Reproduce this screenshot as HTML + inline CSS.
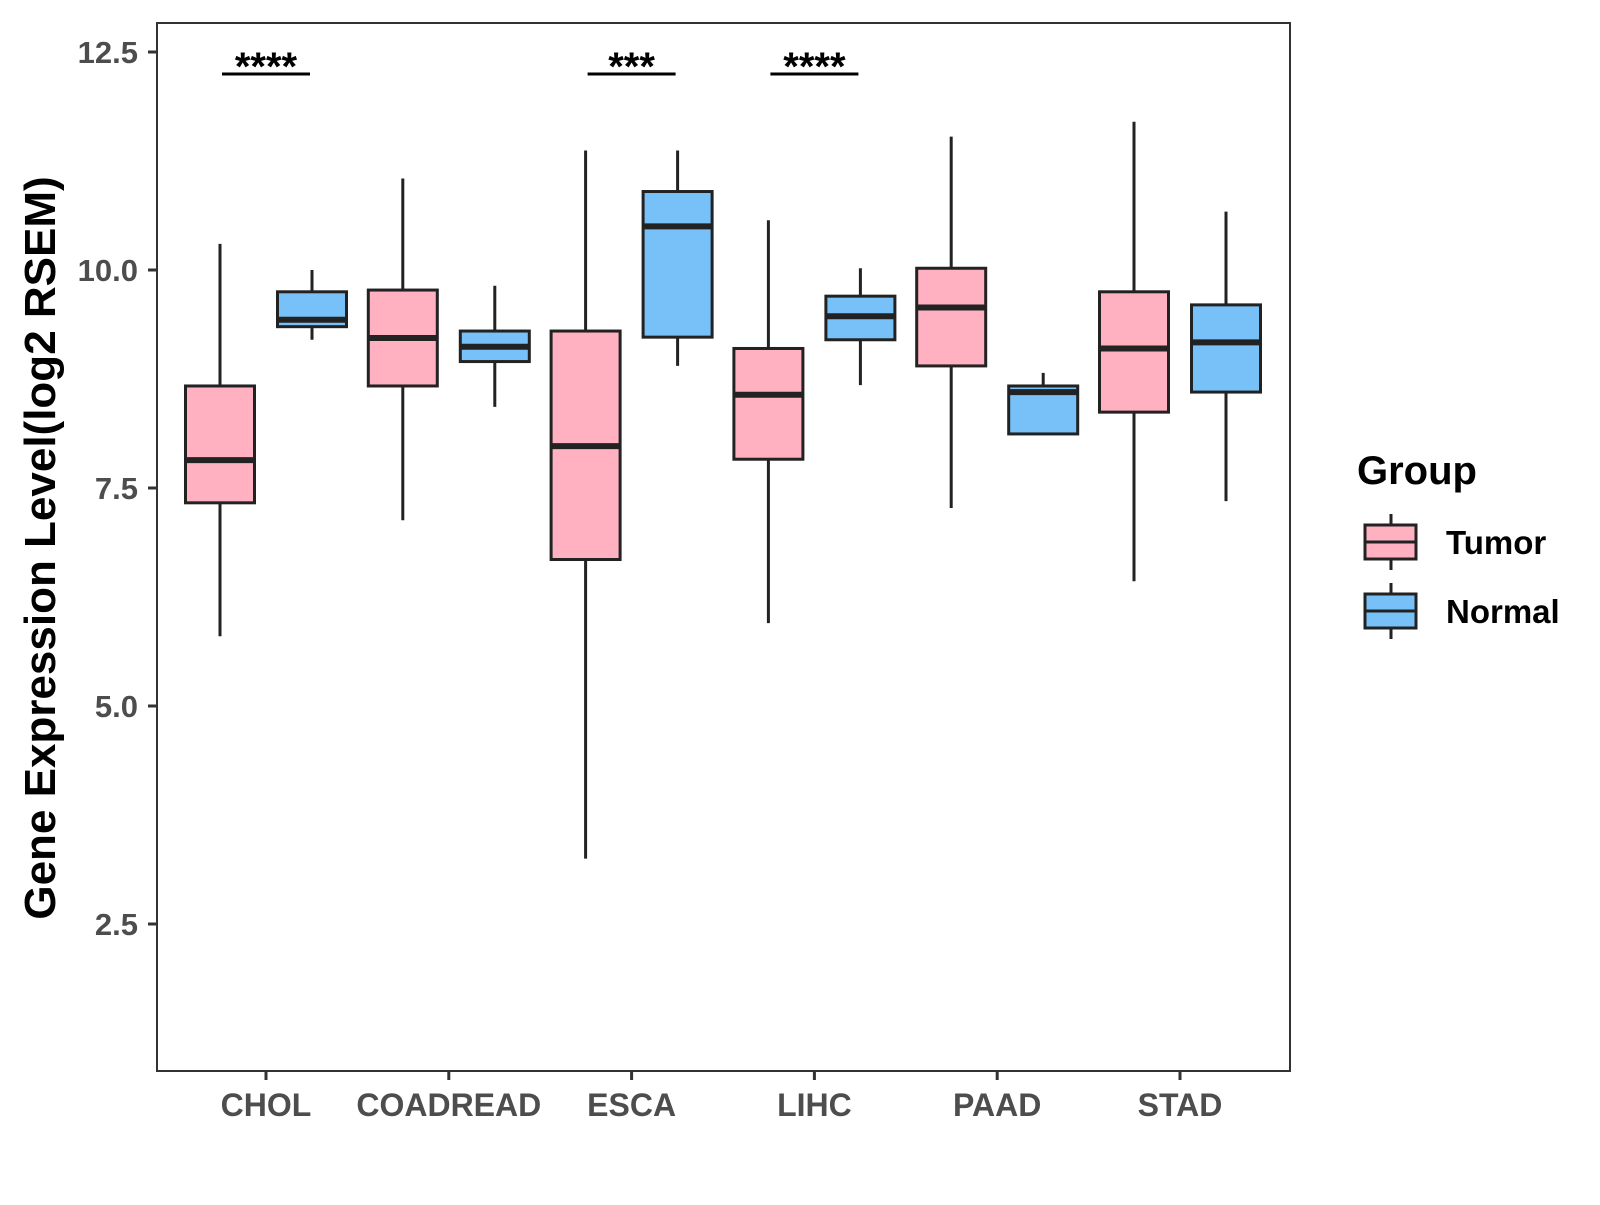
<!DOCTYPE html>
<html><head><meta charset="utf-8"><style>body{margin:0;background:#fff}svg{font-family:"Liberation Sans",Arial,sans-serif;font-weight:bold}</style></head>
<body>
<svg id="c" width="1600" height="1200"></svg>
<script>
const categories=["CHOL","COADREAD","ESCA","LIHC","PAAD","STAD"];
const tumorStats=[[5.8,7.33,7.82,8.67,10.3],[7.13,8.67,9.22,9.77,11.05],[3.25,6.68,7.98,9.3,11.37],[5.95,7.83,8.57,9.1,10.57],[7.27,8.9,9.57,10.02,11.53],[6.43,8.37,9.1,9.75,11.7]];
const normalStats=[[9.2,9.35,9.43,9.75,10.0],[8.43,8.95,9.12,9.3,9.82],[8.9,9.23,10.5,10.9,11.37],[8.68,9.2,9.47,9.7,10.02],[8.12,8.12,8.6,8.67,8.82],[7.35,8.6,9.17,9.6,10.67]];
const yTicks=[2.5,5.0,7.5,10.0,12.5];
const sigLabels=["****","","***","****","",""];
const NS="http://www.w3.org/2000/svg",svg=document.getElementById('c');
function el(t,a,p){const e=document.createElementNS(NS,t);for(const k in a)e.setAttribute(k,a[k]);(p||svg).appendChild(e);return e;}
const L=157,R=1290,T=23,B=1071;
const y=v=>270+(10-v)*87.2;
const x=i=>266+i*182.8;
const off=46,bw=69;
el('rect',{x:L,y:T,width:R-L,height:B-T,fill:'none',stroke:'#333','stroke-width':2,});
yTicks.forEach(v=>{
 const g=el('g',{});
 el('line',{x1:L-9,x2:L,y1:y(v),y2:y(v),stroke:'#333','stroke-width':3},g);
 const t=el('text',{x:L-19,y:y(v)+11,'text-anchor':'end','font-size':31,fill:'#4d4d4d'},g);t.textContent=v.toFixed(1);
});
categories.forEach((c,i)=>{
 const g=el('g',{});
 el('line',{x1:x(i),x2:x(i),y1:B,y2:B+9,stroke:'#333','stroke-width':3},g);
 const t=el('text',{x:x(i),y:B+45,'text-anchor':'middle','font-size':32,fill:'#4d4d4d'},g);t.textContent=c;
});
function box(s,cx,fill,name){
 const g=el('g',{});
 el('line',{x1:cx,x2:cx,y1:y(s[0]),y2:y(s[4]),stroke:'#222','stroke-width':3},g);
 el('rect',{x:cx-bw/2,y:y(s[3]),width:bw,height:y(s[1])-y(s[3]),fill:fill,stroke:'#222','stroke-width':3},g);
 el('line',{x1:cx-bw/2,x2:cx+bw/2,y1:y(s[2]),y2:y(s[2]),stroke:'#222','stroke-width':6},g);
}
categories.forEach((c,i)=>{
 box(tumorStats[i],x(i)-off,'#FFB1C1','box-tumor-'+c.toLowerCase());
 box(normalStats[i],x(i)+off,'#77C1F8','box-normal-'+c.toLowerCase());
 if(sigLabels[i]){
  const g=el('g',{});
  el('line',{x1:x(i)-off+2,x2:x(i)+off-2,y1:74,y2:74,stroke:'#000','stroke-width':3},g);
  const t=el('text',{x:x(i),y:80,'text-anchor':'middle','font-size':40,fill:'#000'},g);t.textContent=sigLabels[i];
 }
});
const yt=el('text',{x:0,y:0,transform:'translate(55,548) rotate(-90)','text-anchor':'middle','font-size':44,fill:'#000',});yt.textContent='Gene Expression Level(log2 RSEM)';
const lt=el('text',{x:1357,y:484,'font-size':40,fill:'#000',});lt.textContent='Group';
[['Tumor','#FFB1C1',542],['Normal','#77C1F8',611]].forEach(([n,f,cy])=>{
 const g=el('g',{});
 el('line',{x1:1391,x2:1391,y1:cy-28,y2:cy+28,stroke:'#222','stroke-width':3},g);
 el('rect',{x:1365,y:cy-17,width:51,height:34,fill:f,stroke:'#222','stroke-width':3},g);
 el('line',{x1:1365,x2:1416,y1:cy,y2:cy,stroke:'#222','stroke-width':3},g);
 const t=el('text',{x:1446,y:cy+12,'font-size':33,fill:'#000'},g);t.textContent=n;
});
</script>
</body></html>
